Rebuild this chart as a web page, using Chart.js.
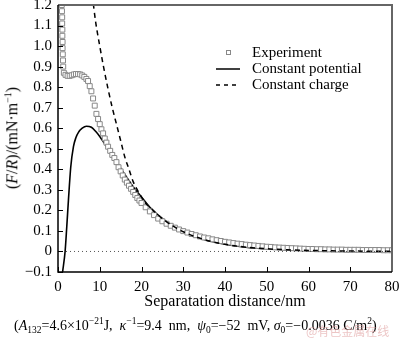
<!DOCTYPE html>
<html>
<head>
<meta charset="utf-8">
<script src="https://cdn.jsdelivr.net/npm/chart.js@4/dist/chart.umd.min.js"></script>
<style>
  body { margin: 0; background: #fff; }
  #wrap { position: relative; width: 400px; height: 341px; font-family: "Liberation Serif", "DejaVu Serif", serif; }
  #ytitle { position: absolute; left: 12px; top: 138px; transform: translate(-50%, -50%) rotate(-90deg); white-space: nowrap; font-size: 16px; color: #000; }
  #caption { position: absolute; left: 14px; top: 316px; white-space: nowrap; font-size: 14px; color: #000; }
  #caption sub, #caption sup { font-size: 9.5px; }
  #marca { position: absolute; left: 306px; top: 322px; font-size: 12px; color: rgba(220,150,150,0.55); font-family: "Noto Sans CJK SC", sans-serif; }
</style>
</head>
<body>
<div id="wrap">
  <canvas id="grafico" width="400" height="341"></canvas>
  <div id="ytitle">(<i>F</i>/<i>R</i>)/(mN·m<sup style="font-size:10px">−1</sup>)</div>
  <div id="caption">(<i>A</i><sub>132</sub>=4.6×10<sup>−21</sup>J,&nbsp; <i>κ</i><sup>−1</sup>=9.4&nbsp; nm,&nbsp; <i>ψ</i><sub>0</sub>=−52&nbsp; mV, <i>σ</i><sub>0</sub>=−0.0036 C/m<sup>2</sup>)</div>
  <div id="marca">@有色金属在线</div>
</div>
<script>
// Experimento (cuadrados)
const expX = [0.9, 0.95, 1.0, 1.0, 1.05, 1.05, 1.1, 1.1, 1.15, 1.2, 1.25, 1.4,
  1.8, 2.3, 2.8, 3.3, 3.8, 4.3, 4.8, 5.3, 5.8, 6.3, 6.8, 7.2, 7.6, 8.0, 8.4, 8.8, 9.2, 9.6,
  10.0, 10.4, 10.8, 11.2, 11.6, 12.0, 12.5, 13.0, 13.5, 14.0, 14.5, 15.0, 15.5, 16.0, 16.5,
  17.0, 17.5, 18.0, 18.5, 19.0, 19.5, 20, 21, 22, 23, 24, 25, 26, 27, 28, 29, 30, 31, 32, 33,
  34, 35, 36, 37, 38, 39, 40, 41, 42, 43, 44, 45, 46, 47, 48, 49, 50, 51, 52, 53, 54, 55, 56,
  57, 58, 59, 60, 61, 62, 63, 64, 65, 66, 67, 68, 69, 70, 71, 72, 73, 74, 75, 76, 77, 78, 79, 80];
const expY = [1.2, 1.17, 1.14, 1.11, 1.08, 1.05, 1.02, 0.99, 0.96, 0.93, 0.9, 0.87,
  0.86, 0.855, 0.855, 0.858, 0.862, 0.864, 0.864, 0.862, 0.857, 0.85, 0.84, 0.83, 0.805, 0.78, 0.745, 0.71, 0.67, 0.645,
  0.62, 0.595, 0.575, 0.55, 0.53, 0.51, 0.49, 0.47, 0.455, 0.435, 0.41, 0.39, 0.37, 0.35, 0.335,
  0.32, 0.305, 0.29, 0.275, 0.26, 0.248, 0.236, 0.215, 0.195, 0.177, 0.16, 0.147, 0.135, 0.125, 0.116, 0.107, 0.099, 0.092, 0.085, 0.079,
  0.073, 0.068, 0.064, 0.059, 0.055, 0.051, 0.047, 0.044, 0.041, 0.038, 0.036, 0.033, 0.031, 0.029, 0.027, 0.025, 0.023, 0.022, 0.02, 0.019, 0.018, 0.017, 0.016,
  0.015, 0.014, 0.013, 0.012, 0.012, 0.011, 0.011, 0.01, 0.01, 0.009, 0.009, 0.009, 0.008, 0.008, 0.008, 0.008, 0.007, 0.007, 0.007, 0.007, 0.007, 0.006, 0.006, 0.006];

// Potencial constante (linea continua)
const potX = [1.1, 1.7, 2.1, 2.5, 3.05, 3.7, 4.3, 4.9, 5.8, 6.8, 8, 9, 10, 11, 12, 13, 14, 15, 16, 17, 18, 19, 20, 22, 25, 28, 30, 35, 40, 45, 50, 55, 60, 70, 80];
const potY = [-0.1, 0, 0.12, 0.25, 0.41, 0.51, 0.555, 0.58, 0.6, 0.61, 0.605, 0.585, 0.56, 0.53, 0.5, 0.47, 0.44, 0.405, 0.375, 0.345, 0.315, 0.29, 0.265, 0.215, 0.16, 0.118, 0.096, 0.058, 0.035, 0.021, 0.013, 0.008, 0.005, 0.002, 0.001];

// Carga constante (linea discontinua)
const cargaX = [8.2, 9, 10, 10.9, 12, 13, 14, 15, 16, 17, 18, 19, 20, 21, 22, 25, 28, 30, 35, 40, 45, 50, 55, 60, 70, 80];
const cargaY = [1.25, 1.12, 1.0, 0.9, 0.79, 0.7, 0.62, 0.54, 0.46, 0.4, 0.34, 0.3, 0.265, 0.235, 0.215, 0.16, 0.118, 0.096, 0.058, 0.035, 0.021, 0.013, 0.008, 0.005, 0.002, 0.001];

const ceroX = [0, 80];
const ceroY = [0, 0];

const xTicks = [0, 10, 20, 30, 40, 50, 60, 70, 80];
const yTicks = [1.2, 1.1, 1.0, 0.9, 0.8, 0.7, 0.6, 0.5, 0.4, 0.3, 0.2, 0.1, 0, -0.1];

const nombres = ['Experiment', 'Constant potential', 'Constant charge'];

function puntos(xs, ys) {
    return xs.map((x, i) => ({ x: x, y: ys[i] }));
}

// Marcas hacia adentro, marco y leyenda
const extras = {
    id: 'extras',
    afterDraw(chart) {
        const ctx = chart.ctx;
        const a = chart.chartArea;
        const sx = chart.scales.x;
        const sy = chart.scales.y;
        ctx.save();
        ctx.strokeStyle = '#000';
        ctx.lineWidth = 1;
        yTicks.forEach(v => {
            const y = Math.round(sy.getPixelForValue(v)) + 0.5;
            ctx.beginPath(); ctx.moveTo(a.left, y); ctx.lineTo(a.left + 5, y); ctx.stroke();
        });
        xTicks.forEach(v => {
            const x = Math.round(sx.getPixelForValue(v)) + 0.5;
            ctx.beginPath(); ctx.moveTo(x, a.bottom); ctx.lineTo(x, a.bottom - 5); ctx.stroke();
        });
        // marco superior y derecho
        ctx.strokeStyle = '#666';
        ctx.lineWidth = 2;
        ctx.beginPath();
        ctx.moveTo(a.left, a.top); ctx.lineTo(a.right, a.top); ctx.lineTo(a.right, a.bottom);
        ctx.stroke();
        ctx.strokeStyle = '#000';
        ctx.lineWidth = 1.5;
        ctx.beginPath();
        ctx.moveTo(a.left, a.top); ctx.lineTo(a.left, a.bottom); ctx.lineTo(a.right, a.bottom);
        ctx.stroke();

        // leyenda
        const filas = [53, 69, 85];
        ctx.font = '15px "Liberation Serif"';
        ctx.fillStyle = '#000';
        ctx.textBaseline = 'middle';
        filas.forEach((y, i) => {
            ctx.fillText(nombres[i], 252, y);
        });
        ctx.strokeStyle = '#888';
        ctx.lineWidth = 1;
        ctx.fillStyle = '#fff';
        ctx.fillRect(226, 50, 5, 5);
        ctx.strokeRect(226.5, 50.5, 4, 4);
        ctx.strokeStyle = '#000';
        ctx.lineWidth = 1.5;
        ctx.beginPath(); ctx.moveTo(216, 69); ctx.lineTo(240, 69); ctx.stroke();
        ctx.setLineDash([4, 4]);
        ctx.beginPath(); ctx.moveTo(216, 85); ctx.lineTo(240, 85); ctx.stroke();
        ctx.restore();
    }
};

const fuente = { family: '"Liberation Serif"', size: 15 };

new Chart(document.getElementById('grafico'), {
    type: 'scatter',
    data: {
        datasets: [
            {
                label: 'zero',
                type: 'line',
                data: puntos(ceroX, ceroY),
                borderColor: '#555',
                borderWidth: 1,
                borderDash: [1, 3],
                pointRadius: 0
            },
            {
                label: nombres[2],
                type: 'line',
                data: puntos(cargaX, cargaY),
                borderColor: '#000',
                borderWidth: 1.5,
                borderDash: [5, 4],
                pointRadius: 0,
                cubicInterpolationMode: 'monotone'
            },
            {
                label: nombres[0],
                data: puntos(expX, expY),
                pointStyle: 'rect',
                pointRadius: 3.5,
                borderColor: '#888',
                backgroundColor: '#fff',
                borderWidth: 1
            },
            {
                label: nombres[1],
                type: 'line',
                data: puntos(potX, potY),
                borderColor: '#000',
                borderWidth: 1.6,
                pointRadius: 0,
                cubicInterpolationMode: 'monotone'
            }
        ]
    },
    options: {
        responsive: false,
        animation: false,
        layout: { padding: { top: 4, right: 8, left: 0, bottom: 0 } },
        plugins: {
            legend: { display: false },
            tooltip: { enabled: false }
        },
        scales: {
            x: {
                type: 'linear',
                min: 0,
                max: 80,
                grid: { display: false, drawTicks: false },
                border: { display: false },
                ticks: { stepSize: 10, color: '#000', font: fuente, padding: 6, maxRotation: 0, autoSkip: false },
                title: {
                    display: true,
                    text: 'Separatation distance/nm',
                    color: '#000',
                    font: { family: '"Liberation Serif"', size: 16 },
                    padding: { top: 0, bottom: 30 }
                },
                afterFit(s) { s.height = 69; s.paddingLeft = 0; s.paddingRight = 0; }
            },
            y: {
                min: -0.1,
                max: 1.2,
                grid: { display: false, drawTicks: false },
                border: { display: false },
                ticks: {
                    stepSize: 0.1,
                    autoSkip: false,
                    color: '#000',
                    font: fuente,
                    padding: 6,
                    callback: v => {
                        const r = Math.round(v * 10) / 10;
                        if (r === 0) return '0';
                        return (r < 0 ? '−' : '') + Math.abs(r).toFixed(1);
                    }
                },
                afterFit(s) { s.width = 58; s.paddingTop = 0; s.paddingBottom = 0; }
            }
        }
    },
    plugins: [extras]
});
</script>
</body>
</html>
